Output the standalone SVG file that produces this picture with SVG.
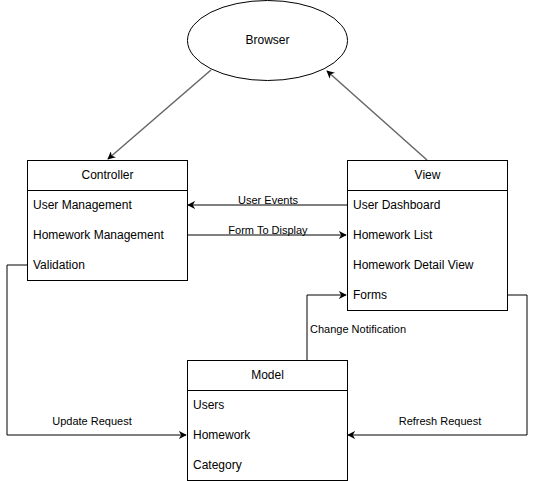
<svg xmlns="http://www.w3.org/2000/svg" width="536" height="481" viewBox="0 0 536 481">
<style>
.box{fill:#fff;stroke:#000;stroke-width:1}
.t{font-family:"Liberation Sans",Arial,sans-serif;font-size:12px;fill:#000}
.c{text-anchor:middle}
.lbl{font-family:"Liberation Sans",Arial,sans-serif;font-size:11px;fill:#000}
.e{fill:none;stroke:#000;stroke-width:1}
.g{fill:none;stroke:#666;stroke-width:1.5}
</style>
<defs>
<marker id="a" viewBox="0 0 10 10" refX="9" refY="5" markerWidth="8" markerHeight="8" markerUnits="userSpaceOnUse" orient="auto">
<path d="M0,0 L10,5 L0,10 L3,5 Z" fill="#000"/>
</marker>
</defs>
<rect width="536" height="481" fill="#fff"/>
<g id="connectors">
<line class="g" x1="211" y1="70" x2="108" y2="159" marker-end="url(#a)"/>
<line class="g" x1="427" y1="160" x2="327" y2="71" marker-end="url(#a)"/>
<line class="e" x1="347" y1="205" x2="188" y2="205" marker-end="url(#a)"/>
<line class="e" x1="187" y1="235" x2="346" y2="235" marker-end="url(#a)"/>
<polyline class="e" points="27,265 7,265 7,435 186,435" marker-end="url(#a)"/>
<polyline class="e" points="507,295 527,295 527,435 348,435" marker-end="url(#a)"/>
<polyline class="e" points="307,360 307,295 346,295" marker-end="url(#a)"/>
<text class="lbl c" x="268" y="204">User Events</text>
<text class="lbl c" x="268" y="234">Form To Display</text>
<text class="lbl c" x="92" y="425">Update Request</text>
<text class="lbl c" x="440" y="425">Refresh Request</text>
<text class="lbl" x="310" y="333">Change Notification</text>
</g>
<g id="browser">
<ellipse class="box" cx="267.5" cy="40.5" rx="80" ry="40"/>
<text class="t c" x="267.5" y="44">Browser</text>
</g>
<g id="controller">
<rect class="box" x="27.5" y="160.5" width="160" height="120"/>
<line class="e" x1="27.5" y1="190.5" x2="187.5" y2="190.5"/>
<text class="t c" x="107.5" y="179">Controller</text>
<text class="t" x="33" y="209">User Management</text>
<text class="t" x="33" y="239">Homework Management</text>
<text class="t" x="33" y="269">Validation</text>
</g>
<g id="view">
<rect class="box" x="347.5" y="160.5" width="160" height="150"/>
<line class="e" x1="347.5" y1="190.5" x2="507.5" y2="190.5"/>
<text class="t c" x="427.5" y="179">View</text>
<text class="t" x="353" y="209">User Dashboard</text>
<text class="t" x="353" y="239">Homework List</text>
<text class="t" x="353" y="269">Homework Detail View</text>
<text class="t" x="353" y="299">Forms</text>
</g>
<g id="model">
<rect class="box" x="187.5" y="360.5" width="160" height="120"/>
<line class="e" x1="187.5" y1="390.5" x2="347.5" y2="390.5"/>
<text class="t c" x="267.5" y="379">Model</text>
<text class="t" x="193" y="409">Users</text>
<text class="t" x="193" y="439">Homework</text>
<text class="t" x="193" y="469">Category</text>
</g>
</svg>
